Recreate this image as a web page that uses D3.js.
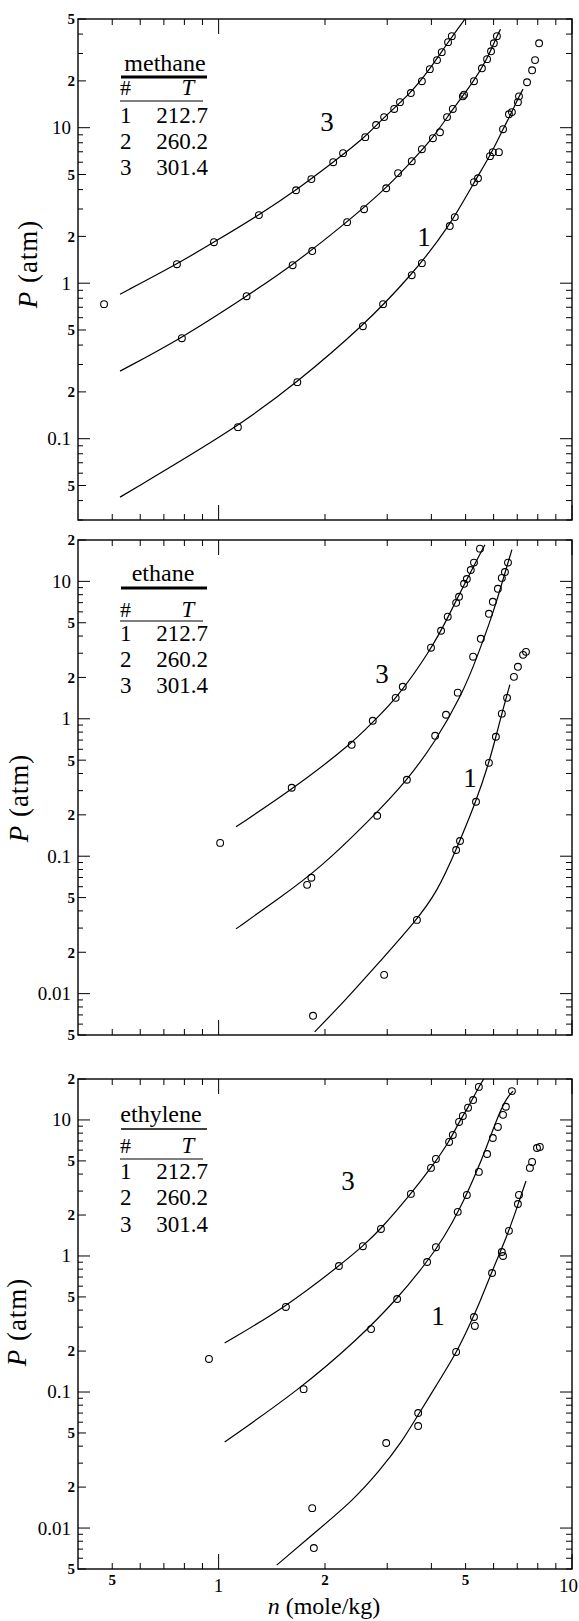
<!DOCTYPE html>
<html>
<head>
<meta charset="utf-8">
<script src="https://cdn.jsdelivr.net/npm/d3@7"></script>
<style>
  body { margin: 0; background: #fff; }
  svg, svg text { font-family: "Liberation Serif", "DejaVu Serif", serif; }
  text { fill: #000; }
</style>
</head>
<body>
<svg id="chart" width="579" height="1621"></svg>
<script>
// Adsorption isotherms: pressure P (atm) vs. loading n (mole/kg), log-log.
const FONT = "Liberation Serif, DejaVu Serif, serif";
const gases = ["methane", "ethane", "ethylene"];
const seriesIds = ["1", "2", "3"];
const temperatures = ["212.7", "260.2", "301.4"];

const xTickValues = [0.5, 0.6, 0.7, 0.8, 0.9, 1, 2, 3, 4, 5, 6, 7, 8, 9, 10];
const xLabelValues = [0.5, 1, 2, 5, 10];
const xLabelText = ["5", "1", "2", "5", "10"];

const yLabelsMethane = [50, 20, 10, 5, 2, 1, 0.5, 0.2, 0.1, 0.05];
const yLabelsMethaneText = ["5", "2", "10", "5", "2", "1", "5", "2", "0.1", "5"];
const yLabelsC2 = [20, 10, 5, 2, 1, 0.5, 0.2, 0.1, 0.05, 0.02, 0.01, 0.005];
const yLabelsC2Text = ["2", "10", "5", "2", "1", "5", "2", "0.1", "5", "2", "0.01", "5"];

// measured points [n, P]
const methane1Points = [[1.134,0.1186],[1.67,0.231],[2.56,0.529],[2.92,0.733],[3.52,1.126],[3.76,1.345],[4.51,2.33],[4.66,2.66],[5.28,4.46],[5.42,4.73],[5.86,6.56],[5.97,6.96],[6.21,6.96],[6.38,9.78],[6.63,12.2],[6.76,12.6],[7.03,14.6],[7.08,15.9],[7.46,19.6],[7.71,23.4],[7.86,27.2],[8.07,34.9]];
const methane2Points = [[0.787,0.443],[1.20,0.825],[1.62,1.305],[1.84,1.61],[2.31,2.47],[2.58,2.99],[2.98,4.08],[3.22,5.10],[3.52,6.09],[3.76,7.27],[4.04,8.56],[4.23,9.35],[4.43,11.7],[4.60,13.2],[4.91,15.9],[4.95,16.3],[5.28,19.9],[5.56,24.1],[5.75,27.6],[5.90,31.0],[6.01,34.9],[6.13,38.8]];
const methane3Points = [[0.474,0.733],[0.762,1.325],[0.97,1.835],[1.30,2.74],[1.656,3.96],[1.83,4.67],[2.11,6.0],[2.25,6.86],[2.60,8.69],[2.79,10.4],[2.94,11.7],[3.14,13.2],[3.26,14.6],[3.50,16.7],[3.76,19.9],[3.96,23.8],[4.15,27.2],[4.28,30.6],[4.46,35.5],[4.57,38.8]];

const ethane1Points = [[1.85,0.0069],[2.94,0.0137],[3.64,0.0344],[4.70,0.111],[4.82,0.129],[5.35,0.249],[5.82,0.478],[6.09,0.74],[6.33,1.09],[6.55,1.42],[6.85,2.02],[7.03,2.39],[7.27,2.92],[7.41,3.07]];
const ethane2Points = [[1.78,0.0619],[1.83,0.0697],[2.81,0.197],[3.41,0.36],[4.10,0.752],[4.40,1.07],[4.75,1.55],[5.25,2.83],[5.52,3.82],[5.82,5.81],[5.97,7.1],[6.17,8.83],[6.33,10.6],[6.46,11.7],[6.59,13.7]];
const ethane3Points = [[1.01,0.125],[1.61,0.315],[2.38,0.647],[2.73,0.967],[3.17,1.42],[3.32,1.71],[3.99,3.29],[4.26,4.37],[4.45,5.53],[4.70,6.98],[4.79,7.73],[4.95,9.6],[5.04,10.4],[5.17,12.1],[5.28,13.7],[5.49,17.3]];

const ethylene1Points = [[1.86,0.00713],[1.84,0.0140],[2.98,0.0422],[3.67,0.0701],[3.67,0.0562],[4.70,0.197],[5.28,0.356],[5.31,0.306],[5.94,0.75],[6.33,1.07],[6.38,1.0],[6.63,1.53],[7.03,2.41],[7.08,2.81],[7.60,4.44],[7.71,4.91],[7.96,6.22],[8.11,6.33]];
const ethylene2Points = [[1.74,0.105],[2.70,0.29],[3.20,0.483],[3.89,0.903],[4.12,1.16],[4.75,2.11],[5.04,2.81],[5.45,4.15],[5.75,5.62],[5.97,7.37],[6.17,8.88],[6.38,10.9],[6.50,12.5],[6.76,16.3]];
const ethylene3Points = [[0.939,0.175],[1.55,0.422],[2.19,0.844],[2.56,1.18],[2.88,1.58],[3.50,2.86],[3.99,4.44],[4.12,5.17],[4.49,6.89],[4.60,7.76],[4.79,9.67],[4.91,10.7],[5.08,12.3],[5.25,14.0],[5.45,17.5]];

// fitted isotherm curves [n, P]
const methane1Fit = [[0.526,0.0421],[1.134,0.1186],[1.67,0.231],[2.56,0.529],[3.52,1.126],[4.51,2.33],[5.28,4.46],[5.86,6.56],[6.38,9.78],[6.76,12.6],[7.08,15.9],[7.27,17.7]];
const methane2Fit = [[0.526,0.272],[0.787,0.443],[1.20,0.825],[1.62,1.305],[2.31,2.47],[2.98,4.08],[3.52,6.09],[4.04,8.56],[4.60,13.2],[5.28,19.9],[5.75,27.6],[6.13,38.8],[6.28,43.0]];
const methane3Fit = [[0.526,0.85],[0.762,1.325],[0.97,1.835],[1.30,2.74],[1.656,3.96],[2.11,6.0],[2.60,8.69],[2.94,11.7],[3.50,16.7],[3.96,23.8],[4.46,35.5],[4.98,50]];

const ethane1Fit = [[1.87,0.00527],[2.30,0.00914],[2.70,0.0145],[3.64,0.0344],[4.15,0.0549],[4.70,0.111],[5.35,0.249],[5.82,0.478],[6.09,0.74],[6.33,1.09],[6.67,1.77]];
const ethane2Fit = [[1.12,0.0296],[1.49,0.0498],[1.94,0.0823],[2.68,0.184],[3.41,0.354],[4.10,0.680],[4.88,1.495],[5.38,2.78],[5.97,5.81],[6.33,9.6],[6.59,13.7],[6.76,17.0]];
const ethane3Fit = [[1.12,0.1637],[1.61,0.304],[2.38,0.658],[2.73,0.95],[3.17,1.375],[3.99,3.18],[4.45,5.43],[4.95,9.45],[5.67,18.5]];

const ethylene1Fit = [[1.46,0.00534],[1.97,0.01035],[2.40,0.0160],[2.86,0.0265],[3.30,0.0430],[3.67,0.0680],[4.20,0.120],[4.72,0.197],[5.10,0.300],[5.49,0.459],[5.97,0.80],[6.55,1.40],[7.00,2.30],[7.41,3.56]];
const ethylene2Fit = [[1.04,0.0429],[1.70,0.105],[2.48,0.245],[3.20,0.483],[3.89,0.903],[4.35,1.38],[4.82,2.22],[5.31,3.87],[5.75,6.44],[6.13,10.2],[6.50,14.3],[6.81,16.3]];
const ethylene3Fit = [[1.04,0.229],[1.55,0.422],[2.19,0.844],[2.56,1.18],[2.88,1.58],[3.50,2.86],[3.99,4.44],[4.49,6.89],[4.79,9.67],[5.08,12.3],[5.45,17.5],[5.67,20.7]];

const svg = d3.select("#chart").style("font-family", FONT);
const left = 78, right = 572;
const x = d3.scaleLog().domain([0.4, 10]).range([left, right]);

const panels = [
  { name: gases[0], top: 19, bottom: 520, domain: [0.03, 50],
    ticks: yLabelsMethane, tickText: yLabelsMethaneText,
    points: [methane1Points, methane2Points, methane3Points],
    fits: [methane1Fit, methane2Fit, methane3Fit],
    legend: { title: 71, rule: 77, ruleW: 3, head: 95, line: 101, rows: [123, 149, 175], titleX: 165 },
    curveLabels: [{ t: "3", x: 327, y: 131 }, { t: "1", x: 424, y: 246 }],
    yTitle: { x: 37, y: 264 }, xLabels: false },
  { name: gases[1], top: 540, bottom: 1035, domain: [0.005, 20],
    ticks: yLabelsC2, tickText: yLabelsC2Text,
    points: [ethane1Points, ethane2Points, ethane3Points],
    fits: [ethane1Fit, ethane2Fit, ethane3Fit],
    legend: { title: 581, rule: 588, ruleW: 3, head: 617, line: 621, rows: [641, 667, 693], titleX: 163 },
    curveLabels: [{ t: "3", x: 382, y: 683 }, { t: "1", x: 470, y: 787 }],
    yTitle: { x: 28, y: 798 }, xLabels: false },
  { name: gases[2], top: 1079, bottom: 1569, domain: [0.005, 20],
    ticks: yLabelsC2, tickText: yLabelsC2Text,
    points: [ethylene1Points, ethylene2Points, ethylene3Points],
    fits: [ethylene1Fit, ethylene2Fit, ethylene3Fit],
    legend: { title: 1122, rule: 1129, ruleW: 1.5, head: 1153, line: 1159, rows: [1179, 1205, 1232], titleX: 161 },
    curveLabels: [{ t: "3", x: 348, y: 1190 }, { t: "1", x: 438, y: 1325 }],
    yTitle: { x: 26, y: 1322 }, xLabels: true }
];

function minorValues(domain) {
  const out = [];
  for (let e = -4; e <= 2; e++) {
    for (let k = 1; k <= 9; k++) {
      const v = +(k * Math.pow(10, e)).toPrecision(6);
      if (v >= domain[0] * 0.999 && v <= domain[1] * 1.001) out.push(v);
    }
  }
  return out;
}
const isDecade = v => Math.abs(Math.log10(v) - Math.round(Math.log10(v))) < 1e-6;

function addText(sel) {
  return sel.append("text").attr("font-family", FONT);
}

panels.forEach((p, pi) => {
  const y = d3.scaleLog().domain(p.domain).range([p.bottom, p.top]);
  const g = svg.append("g");

  const clipId = "clip" + pi;
  svg.append("clipPath").attr("id", clipId)
    .append("rect").attr("x", left).attr("y", p.top)
    .attr("width", right - left).attr("height", p.bottom - p.top);

  // frame
  g.append("rect").attr("x", left).attr("y", p.top)
    .attr("width", right - left).attr("height", p.bottom - p.top)
    .attr("fill", "none").attr("stroke", "#000").attr("stroke-width", 1.4);

  // y ticks, left and right
  const labelled = new Set(p.ticks.map(v => +v.toPrecision(6)));
  minorValues(p.domain).forEach(v => {
    const yy = y(v);
    const lenL = isDecade(v) ? 12 : (labelled.has(v) ? 8 : 5);
    const lenR = isDecade(v) ? 12 : 6;
    g.append("line").attr("x1", left).attr("x2", left + lenL).attr("y1", yy).attr("y2", yy)
      .attr("stroke", "#000").attr("stroke-width", 1);
    g.append("line").attr("x1", right).attr("x2", right - lenR).attr("y1", yy).attr("y2", yy)
      .attr("stroke", "#000").attr("stroke-width", 1);
  });

  // y tick labels
  p.ticks.forEach((v, i) => {
    const dec = isDecade(v);
    addText(g)
      .attr("x", dec ? 71 : 75)
      .attr("y", y(v))
      .attr("dy", dec ? "0.34em" : "0.36em")
      .attr("text-anchor", "end")
      .attr("font-size", dec ? 19 : 15)
      .attr("font-weight", dec ? "normal" : "bold")
      .text(p.tickText[i]);
  });

  // x ticks, top and bottom
  xTickValues.forEach(v => {
    const xx = x(v);
    const len = (v === 1 || v === 10) ? 15 : 6;
    g.append("line").attr("x1", xx).attr("x2", xx).attr("y1", p.top).attr("y2", p.top + len)
      .attr("stroke", "#000").attr("stroke-width", 1);
    g.append("line").attr("x1", xx).attr("x2", xx).attr("y1", p.bottom).attr("y2", p.bottom - len)
      .attr("stroke", "#000").attr("stroke-width", 1);
  });

  if (p.xLabels) {
    xLabelValues.forEach((v, i) => {
      const dec = isDecade(v);
      const last = i === xLabelValues.length - 1;
      addText(g)
        .attr("x", last ? 578 : x(v))
        .attr("y", dec ? p.bottom + 23 : p.bottom + 16)
        .attr("text-anchor", last ? "end" : "middle")
        .attr("font-size", dec ? 19 : 15)
        .attr("font-weight", dec ? "normal" : "bold")
        .text(xLabelText[i]);
    });
    const xt = addText(g).attr("x", 324).attr("y", p.bottom + 45)
      .attr("text-anchor", "middle").attr("font-size", 24);
    xt.append("tspan").attr("font-style", "italic").text("n");
    xt.append("tspan").text(" (mole/kg)");
  }

  // y axis title
  const yt = addText(g)
    .attr("transform", `translate(${p.yTitle.x},${p.yTitle.y}) rotate(-90)`)
    .attr("text-anchor", "middle").attr("font-size", 27)
    .attr("letter-spacing", 1);
  yt.append("tspan").attr("font-style", "italic").text("P");
  yt.append("tspan").text(" (atm)");

  // fitted curves
  const line = d3.line()
    .x(d => x(d[0])).y(d => y(d[1]))
    .curve(d3.curveBasis);
  const plot = g.append("g").attr("clip-path", `url(#${clipId})`);
  p.fits.forEach(f => {
    plot.append("path").attr("d", line(f))
      .attr("fill", "none").attr("stroke", "#000").attr("stroke-width", 1.2);
  });

  // data points
  p.points.forEach(series => {
    plot.selectAll(null).data(series).enter().append("circle")
      .attr("cx", d => x(d[0])).attr("cy", d => y(d[1]))
      .attr("r", 3.4)
      .attr("fill", "none").attr("stroke", "#000").attr("stroke-width", 1.1);
  });

  // curve number labels
  p.curveLabels.forEach(c => {
    addText(g).attr("x", c.x).attr("y", c.y)
      .attr("text-anchor", "middle").attr("font-size", 27).text(c.t);
  });

  // legend table
  const L = p.legend;
  addText(g).attr("x", L.titleX).attr("y", L.title)
    .attr("text-anchor", "middle").attr("font-size", 24).text(p.name);
  g.append("line").attr("x1", 121).attr("x2", 207).attr("y1", L.rule).attr("y2", L.rule)
    .attr("stroke", "#000").attr("stroke-width", L.ruleW);
  addText(g).attr("x", 120).attr("y", L.head).attr("font-size", 22).text("#");
  addText(g).attr("x", 188).attr("y", L.head).attr("text-anchor", "middle")
    .attr("font-size", 23).attr("font-style", "italic").text("T");
  g.append("line").attr("x1", 120).attr("x2", 203).attr("y1", L.line).attr("y2", L.line)
    .attr("stroke", "#000").attr("stroke-width", 1.2);
  seriesIds.forEach((s, i) => {
    addText(g).attr("x", 120).attr("y", L.rows[i]).attr("font-size", 23).text(s);
    addText(g).attr("x", 208).attr("y", L.rows[i]).attr("text-anchor", "end")
      .attr("font-size", 23).text(temperatures[i]);
  });
});
</script>
</body>
</html>
